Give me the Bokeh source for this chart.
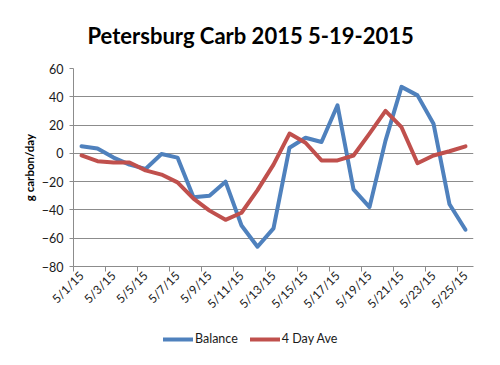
from bokeh.plotting import figure
from bokeh.models import Range1d, FixedTicker, Legend, LegendItem, ColumnDataSource
from bokeh.layouts import column
from bokeh.embed import file_html
from bokeh.resources import INLINE
from math import pi

dates = ["5/%d/15" % d for d in range(1, 26)]
balance = [5, 3.5, -3, -8, -11, -0.5, -3, -31, -30, -20, -51, -66, -53,
           4, 11, 8, 34, -25.5, -38, 9, 47, 41, 21, -36, -54]
four_day_ave = [-1.5, -5.5, -6.5, -6.5, -12, -15, -20.5, -32, -40.5, -47, -42, -26, -8,
                14, 7.5, -5, -5, -1.5, 14, 30, 18.5, -7, -1.5, 1.5, 5]
y_ticks = [-80, -60, -40, -20, 0, 20, 40, 60]
series_names = ["Balance", "4 Day Ave"]
series_colors = ["#4f81bd", "#c0504d"]

idx = list(range(len(dates)))
src = ColumnDataSource(dict(x=idx, date=dates, balance=balance, ave=four_day_ave))

FONT = "Lato"
TXT = "#1a1a1a"
GRID = "#8c8c8c"
LW = 4

p = figure(width=500, height=325, output_backend="svg", toolbar_location=None,
           x_range=Range1d(-0.5, len(dates) - 0.5), y_range=Range1d(-80, 60),
           min_border_left=73, min_border_right=27, min_border_top=65, min_border_bottom=59,
           title="Petersburg Carb 2015 5-19-2015")
p.outline_line_color = None

p.title.align = "left"
p.title.offset = 14
p.title.text_font = FONT
p.title.text_font_size = "22px"
p.title.text_font_style = "bold"
p.title.text_color = "#000000"
p.title.standoff = 39

# y axis
p.yaxis.ticker = FixedTicker(ticks=y_ticks)
p.yaxis.axis_line_color = GRID
p.yaxis.major_tick_line_color = GRID
p.yaxis.major_tick_out = 4
p.yaxis.major_tick_in = 0
p.yaxis.minor_tick_line_color = None
p.yaxis.major_label_text_font = FONT
p.yaxis.major_label_text_font_size = "12.5px"
p.yaxis.major_label_text_color = TXT
p.yaxis.major_label_standoff = 6
p.yaxis.axis_label = "g carbon/day"
p.yaxis.axis_label_text_font = FONT
p.yaxis.axis_label_text_font_size = "11.5px"
p.yaxis.axis_label_text_font_style = "bold"
p.yaxis.axis_label_text_color = "#000000"
p.yaxis.axis_label_standoff = 3

# x axis
label_ticks = idx[::2]
boundaries = [i - 0.5 for i in idx[::2]]
p.xaxis.ticker = FixedTicker(ticks=label_ticks, minor_ticks=boundaries)
p.xaxis.major_label_overrides = {i: dates[i] for i in label_ticks}
p.xaxis.major_label_orientation = pi / 4
p.xaxis.major_tick_line_color = None
p.xaxis.major_tick_out = 4
p.xaxis.minor_tick_line_color = GRID
p.xaxis.minor_tick_out = 5
p.xaxis.minor_tick_in = 0
p.xaxis.axis_line_color = GRID
p.xaxis.major_label_text_font = FONT
p.xaxis.major_label_text_font_size = "12px"
p.xaxis.major_label_text_color = TXT
p.xaxis.major_label_standoff = 2

p.xgrid.grid_line_color = None
p.ygrid.grid_line_color = GRID
p.ygrid.grid_line_width = 1

p.line("x", "balance", source=src, line_color=series_colors[0], line_width=LW,
       line_join="round", line_cap="round")
p.line("x", "ave", source=src, line_color=series_colors[1], line_width=LW,
       line_join="round", line_cap="round")

# legend strip below the chart (its ranges keep the series out of view;
# only the legend is shown)
lg = figure(width=500, height=40, output_backend="svg", toolbar_location=None,
            x_range=Range1d(1000, 1001), y_range=Range1d(1000, 1001),
            min_border=0, min_border_left=0, min_border_right=0,
            min_border_top=0, min_border_bottom=0)
lg.axis.visible = False
lg.grid.visible = False
lg.outline_line_color = None
items = []
for name, color, col in zip(series_names, series_colors, ["balance", "ave"]):
    r = lg.line("x", col, source=src, line_color=color, line_width=LW, line_cap="round")
    items.append(LegendItem(label=name, renderers=[r]))
legend = Legend(items=items, orientation="horizontal", location=(90, 19))
legend.border_line_color = None
legend.background_fill_alpha = 0
legend.label_text_font = FONT
legend.label_text_font_size = "12.5px"
legend.label_text_color = TXT
legend.glyph_width = 30
legend.glyph_height = 14
legend.label_standoff = 2
legend.spacing = 12
legend.padding = 2
legend.margin = 0
lg.add_layout(legend, "center")

layout = column(p, lg, spacing=0)
open("out.html", "w").write(file_html(layout, INLINE))
